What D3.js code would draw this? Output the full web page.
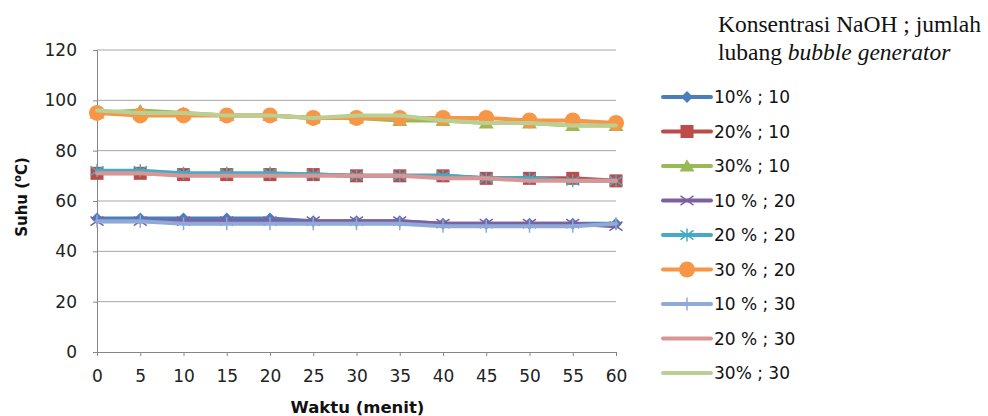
<!DOCTYPE html>
<html>
<head>
<meta charset="utf-8">
<script src="https://cdn.jsdelivr.net/npm/d3@7"></script>
<style>
  html, body { margin: 0; padding: 0; background: #fff; }
  svg { display: block; }
</style>
</head>
<body>
<svg id="chart" width="988" height="416"></svg>
<script>
// Waktu (menit)
const categories = ["0", "5", "10", "15", "20", "25", "30", "35", "40", "45", "50", "55", "60"];
const yTicks = [0, 20, 40, 60, 80, 100, 120];

// Suhu (°C) per series: konsentrasi NaOH ; jumlah lubang bubble generator
const s10_10 = [53, 53, 53, 53, 53, 52, 52, 52, 51, 51, 51, 51, 51];
const s20_10 = [71, 71, 70.5, 70.5, 70.5, 70.5, 70, 70, 70, 69, 69, 69, 68];
const s30_10 = [95, 96, 95, 94, 94, 93, 93, 92, 92, 91, 91, 90, 90];
const s10_20 = [52, 52, 52, 52, 52, 52, 52, 52, 51, 51, 51, 51, 50];
const s20_20 = [72, 72, 71, 71, 71, 70.5, 70, 70, 70, 69, 69, 68, 68];
const s30_20 = [95, 94, 94, 94, 94, 93, 93, 93, 93, 93, 92, 92, 91];
const s10_30 = [52, 52, 51, 51, 51, 51, 51, 51, 50, 50, 50, 50, 51];
const s20_30 = [71, 71, 70, 70, 70, 70, 70, 70, 69, 69, 68, 68, 68];
const s30_30 = [96, 95, 95, 94, 94, 93, 94, 94, 92, 91, 91, 90, 90];

const seriesNames = ["10% ; 10", "20% ; 10", "30% ; 10", "10 % ; 20", "20 % ; 20",
                     "30 % ; 20", "10 % ; 30", "20 % ; 30", "30% ; 30"];
const seriesValues = [s10_10, s20_10, s30_10, s10_20, s20_20, s30_20, s10_30, s20_30, s30_30];
const seriesColors = ["#4a7ebb", "#be4b48", "#98b954", "#7d60a0", "#46aac5",
                      "#f79646", "#8eaad8", "#d99694", "#b9cf93"];
const seriesMarkers = ["diamond", "square", "triangle", "x", "star", "circle", "plus", "none", "none"];

const svg = d3.select("#chart");
const plot = { left: 97, right: 616, top: 50, bottom: 352 };

const x = d3.scalePoint().domain(categories).range([plot.left, plot.right]).padding(0);
const y = d3.scaleLinear().domain([0, 120]).range([plot.bottom, plot.top]);

const tickFont = "DejaVu Sans, Verdana, sans-serif";

// gridlines
svg.append("g")
  .selectAll("line")
  .data(yTicks.filter(d => d > 0))
  .join("line")
  .attr("x1", plot.left).attr("x2", plot.right)
  .attr("y1", d => y(d)).attr("y2", d => y(d))
  .attr("stroke", "#a6a6a6").attr("stroke-width", 1);

// y axis
const yAxis = svg.append("g")
  .attr("transform", `translate(${plot.left},0)`)
  .call(d3.axisLeft(y).tickValues(yTicks).tickSize(4).tickPadding(16));
yAxis.select(".domain").attr("stroke", "#868686");
yAxis.selectAll(".tick line").attr("stroke", "#868686");
yAxis.selectAll(".tick text")
  .attr("font-family", tickFont).attr("font-size", 17).attr("fill", "#222");

// x axis
const xAxis = svg.append("g")
  .attr("transform", `translate(0,${plot.bottom})`)
  .call(d3.axisBottom(x).tickSize(4).tickPadding(14));
xAxis.select(".domain").attr("stroke", "#868686");
xAxis.selectAll(".tick line").attr("stroke", "#868686");
xAxis.selectAll(".tick text")
  .attr("font-family", tickFont).attr("font-size", 17).attr("fill", "#222");

// axis titles
svg.append("text")
  .attr("x", (plot.left + plot.right) / 2 + 1).attr("y", 413)
  .attr("text-anchor", "middle")
  .attr("font-family", tickFont).attr("font-weight", "bold").attr("font-size", 16.5)
  .attr("fill", "#111")
  .text("Waktu (menit)");

const yTitle = svg.append("text")
  .attr("transform", "translate(27,197) rotate(-90)")
  .attr("text-anchor", "middle")
  .attr("font-family", tickFont).attr("font-weight", "bold").attr("font-size", 15)
  .attr("fill", "#111");
yTitle.append("tspan").text("Suhu (");
yTitle.append("tspan").attr("font-size", 10).attr("dy", -6).text("o");
yTitle.append("tspan").attr("dy", 6).text("C)");

// marker drawing
function drawMarker(g, type, color, s) {
  const h = s / 2;
  switch (type) {
    case "diamond":
      g.append("path").attr("d", `M0,${-h}L${h},0L0,${h}L${-h},0Z`).attr("fill", color);
      break;
    case "square":
      g.append("rect").attr("x", -h).attr("y", -h).attr("width", s).attr("height", s).attr("fill", color);
      break;
    case "triangle":
      g.append("path").attr("d", `M0,${-h}L${h + 1},${h - 1}L${-h - 1},${h - 1}Z`).attr("fill", color);
      break;
    case "circle":
      g.append("circle").attr("r", h + 1).attr("fill", color);
      break;
    case "x":
      g.append("path").attr("d", `M${-h},${-h * 0.7}L${h},${h * 0.7}M${-h},${h * 0.7}L${h},${-h * 0.7}`)
        .attr("stroke", color).attr("stroke-width", 1.5).attr("fill", "none");
      break;
    case "star":
      g.append("path").attr("d", `M${-h},${-h * 0.7}L${h},${h * 0.7}M${-h},${h * 0.7}L${h},${-h * 0.7}M0,${-h}L0,${h}`)
        .attr("stroke", color).attr("stroke-width", 1.5).attr("fill", "none");
      break;
    case "plus":
      g.append("path").attr("d", `M0,${-h}L0,${h}M${-h * 0.4},0L${h * 0.4},0`)
        .attr("stroke", color).attr("stroke-width", 1.5).attr("fill", "none");
      break;
  }
}

const markerSize = { diamond: 12, square: 13, triangle: 13, circle: 14, x: 13, star: 13, plus: 13, none: 0 };

// series
const line = d3.line().x((d, i) => x(categories[i])).y(d => y(d));
seriesValues.forEach((vals, k) => {
  const g = svg.append("g");
  g.append("path")
    .attr("d", line(vals))
    .attr("fill", "none")
    .attr("stroke", seriesColors[k])
    .attr("stroke-width", 4)
    .attr("stroke-linejoin", "round")
    .attr("stroke-linecap", "round");
  if (seriesMarkers[k] !== "none") {
    vals.forEach((v, i) => {
      const mg = g.append("g").attr("transform", `translate(${x(categories[i])},${y(v)})`);
      drawMarker(mg, seriesMarkers[k], seriesColors[k], markerSize[seriesMarkers[k]]);
    });
  }
});

// legend
const legTitle = svg.append("text")
  .attr("font-family", "Liberation Serif, Times New Roman, serif")
  .attr("font-size", 23.5).attr("fill", "#111");
legTitle.append("tspan").attr("x", 718).attr("y", 32).text("Konsentrasi NaOH ; jumlah");
const l2 = legTitle.append("tspan").attr("x", 718).attr("y", 60);
l2.append("tspan").text("lubang ");
l2.append("tspan").attr("font-style", "italic").text("bubble generator");

const legend = svg.append("g");
seriesNames.forEach((name, k) => {
  const cy = 97 + k * 34.5;
  const g = legend.append("g").attr("transform", `translate(0,${cy})`);
  g.append("line").attr("x1", 663).attr("x2", 711).attr("y1", 0).attr("y2", 0)
    .attr("stroke", seriesColors[k]).attr("stroke-width", 4).attr("stroke-linecap", "round");
  if (seriesMarkers[k] !== "none") {
    const mg = g.append("g").attr("transform", "translate(687,0)");
    drawMarker(mg, seriesMarkers[k], seriesColors[k], markerSize[seriesMarkers[k]]);
  }
  g.append("text").attr("x", 714).attr("y", 6)
    .attr("font-family", tickFont).attr("font-size", 17).attr("fill", "#111")
    .text(name);
});
</script>
</body>
</html>
